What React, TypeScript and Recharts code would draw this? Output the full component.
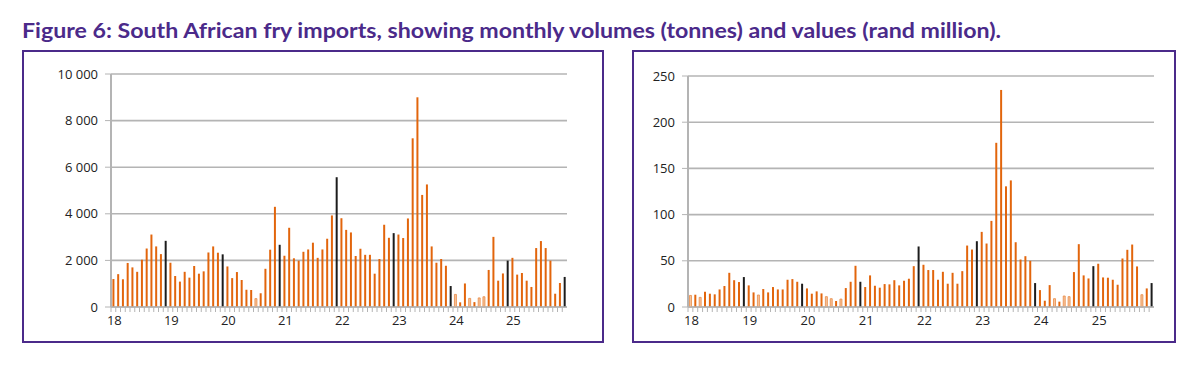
import { BarChart, Bar, XAxis, YAxis, CartesianGrid, Cell } from 'recharts';

// South African fry imports, Jan 2018 - Dec 2025, one bar per month

const years = ['18', '19', '20', '21', '22', '23', '24', '25'];
const monthNames = ['Jan', 'Feb', 'Mar', 'Apr', 'May', 'Jun', 'Jul', 'Aug', 'Sep', 'Oct', 'Nov', 'Dec'];
const months = years.flatMap((y) => monthNames.map((m) => `${m}-${y}`));

// tonnes
const volumes = [
  1200, 1410, 1190, 1890, 1700, 1510, 2030, 2510, 3110, 2600, 2270, 2840,
  1900, 1330, 1090, 1510, 1260, 1760, 1430, 1530, 2340, 2600, 2330, 2260,
  1740, 1240, 1500, 1160, 740, 730, 360, 590, 1640, 2460, 4300, 2670,
  2200, 3400, 2090, 1990, 2370, 2470, 2760, 2110, 2470, 2930, 3930, 5570,
  3810, 3310, 3200, 2190, 2500, 2240, 2240, 1430, 2060, 3530, 2970, 3170,
  3110, 2960, 3800, 7240, 9000, 4810, 5260, 2600, 1900, 2060, 1770, 900,
  540, 200, 1010, 370, 210, 390, 440, 1590, 3010, 1130, 1440, 1990,
  2110, 1390, 1460, 1130, 860, 2530, 2830, 2530, 1990, 570, 1030, 1290,
];

// rand million
const values = [
  12.5, 13.3, 10.4, 16.5, 14.4, 13.7, 19, 22.7, 37, 29, 27, 32.4,
  23.4, 15.8, 13, 19.4, 15.8, 21.6, 19, 19, 29.5, 30.2, 27.3, 25.2,
  20.1, 14.4, 16.9, 14.7, 11.2, 9, 6.5, 8.6, 20.5, 27.3, 44.6, 27.3,
  21.6, 34.2, 23, 20.9, 24.8, 24.5, 29, 23.4, 28.4, 30.6, 44.2, 65.5,
  45.7, 40, 40, 29.5, 38.1, 25.2, 37, 25.2, 38.8, 66.5, 62.2, 71.2,
  81.3, 68.7, 93.2, 177.7, 234.9, 130.6, 137, 70.1, 51.4, 55, 50, 25.9,
  18.3, 6.8, 23.7, 9, 5.8, 11.9, 11.2, 37.8, 68, 34.2, 30.9, 44.2,
  46.8, 32, 31.7, 29.5, 24.1, 52.5, 61.9, 67.6, 43.9, 13.3, 20.1, 25.9,
];

// months drawn as pale bars in each panel
const paleVolumeMonths = ['Jul-20', 'Jan-24', 'Apr-24', 'Jun-24', 'Jul-24'];
const paleValueMonths = ['Jan-18', 'Mar-18', 'Mar-19', 'May-20', 'Jun-20', 'Aug-20', 'Apr-24', 'Jun-24', 'Jul-24', 'Oct-25'];

const volumeTicks = [0, 2000, 4000, 6000, 8000, 10000];
const valueTicks = [0, 50, 100, 150, 200, 250];

const rows = months.map((m, i) => ({ month: m, volume: volumes[i], value: values[i] }));

const PURPLE = '#4b2a8a';
const ORANGE = '#e2650c';
const GRID = '#b4b4b4';
const FONT = '"Open Sans", sans-serif';

const spaced = (v: number) => String(v).replace(/\B(?=(\d{3})+(?!\d))/g, ' ');

function MonthTick(props: any) {
  const { x, y, payload, step } = props;
  const m = String(payload.value);
  return (
    <g>
      <line x1={x - step / 2} x2={x - step / 2} y1={y} y2={y + 5} stroke={GRID} strokeWidth={1} />
      {m.startsWith('Jan') && (
        <text x={x + 1} y={y + 18} textAnchor="middle" fontSize={13} fill="#222" fontFamily={FONT}>
          {m.slice(4)}
        </text>
      )}
    </g>
  );
}

function Panel(props: {
  dataKey: 'volume' | 'value';
  ticks: number[];
  pale: string[];
  width: number;
  left: number;
  axisWidth: number;
  right: number;
  top: number;
  fmt: (v: number) => string;
}) {
  const { dataKey, ticks, pale, width, left, axisWidth, right, top, fmt } = props;
  const height = 293;
  const step = (width - left - axisWidth - right) / months.length;
  return (
    <BarChart
      width={width}
      height={height}
      data={rows}
      margin={{ top, right, bottom: 16, left }}
      barCategoryGap="30%"
    >
      <CartesianGrid vertical={false} stroke={GRID} strokeWidth={1.6} />
      <XAxis
        dataKey="month"
        interval={0}
        tickLine={false}
        tickSize={0}
        tickMargin={0}
        height={20}
        axisLine={{ stroke: GRID, strokeWidth: 1.6 }}
        tick={<MonthTick step={step} />}
      />
      <YAxis
        domain={[0, ticks[ticks.length - 1]]}
        ticks={ticks}
        width={axisWidth}
        tickSize={6}
        tickMargin={7}
        tickFormatter={fmt}
        axisLine={{ stroke: GRID, strokeWidth: 2 }}
        tickLine={{ stroke: GRID }}
        tick={{ fontSize: 13, fill: '#222', fontFamily: FONT }}
      />
      <YAxis
        yAxisId="border"
        orientation="right"
        width={0}
        domain={[0, 1]}
        tick={false}
        tickLine={false}
        axisLine={{ stroke: GRID, strokeWidth: 1.6 }}
      />
      <Bar dataKey={dataKey} isAnimationActive={false}>
        {rows.map((r) => {
          const dec = r.month.startsWith('Dec');
          const isPale = pale.includes(r.month);
          return (
            <Cell
              key={r.month}
              fill={dec ? '#1c1c1c' : isPale ? '#f7c39b' : ORANGE}
              stroke={isPale ? '#e98a45' : 'none'}
              strokeWidth={isPale ? 0.8 : 0}
            />
          );
        })}
      </Bar>
    </BarChart>
  );
}

export default function App() {
  return (
    <div style={{ position: 'absolute', left: 0, top: 0, width: 1200, height: 367, background: '#fff' }}>
      <svg style={{ position: 'absolute', left: 0, top: 0 }} width={1200} height={50}>
        <text
          x={22}
          y={38}
          fontFamily='Lato, "Open Sans", sans-serif'
          fontWeight={700}
          fontSize={20.5}
          fill={PURPLE}
          textLength={979}
          lengthAdjust="spacingAndGlyphs"
        >
          Figure 6: South African fry imports, showing monthly volumes (tonnes) and values (rand million).
        </text>
      </svg>
      <div
        style={{
          position: 'absolute', left: 22, top: 50, width: 578, height: 289,
          border: `2px solid ${PURPLE}`,
        }}
      />
      <div
        style={{
          position: 'absolute', left: 632, top: 50, width: 540, height: 289,
          border: `2px solid ${PURPLE}`,
        }}
      />
      <div style={{ position: 'absolute', left: 22, top: 50 }}>
        <Panel
          dataKey="volume"
          ticks={volumeTicks}
          pale={paleVolumeMonths}
          width={582}
          left={29}
          axisWidth={60}
          right={37}
          top={24}
          fmt={spaced}
        />
      </div>
      <div style={{ position: 'absolute', left: 632, top: 50 }}>
        <Panel
          dataKey="value"
          ticks={valueTicks}
          pale={paleValueMonths}
          width={544}
          left={11}
          axisWidth={45}
          right={22}
          top={26}
          fmt={(v) => String(v)}
        />
      </div>
    </div>
  );
}
